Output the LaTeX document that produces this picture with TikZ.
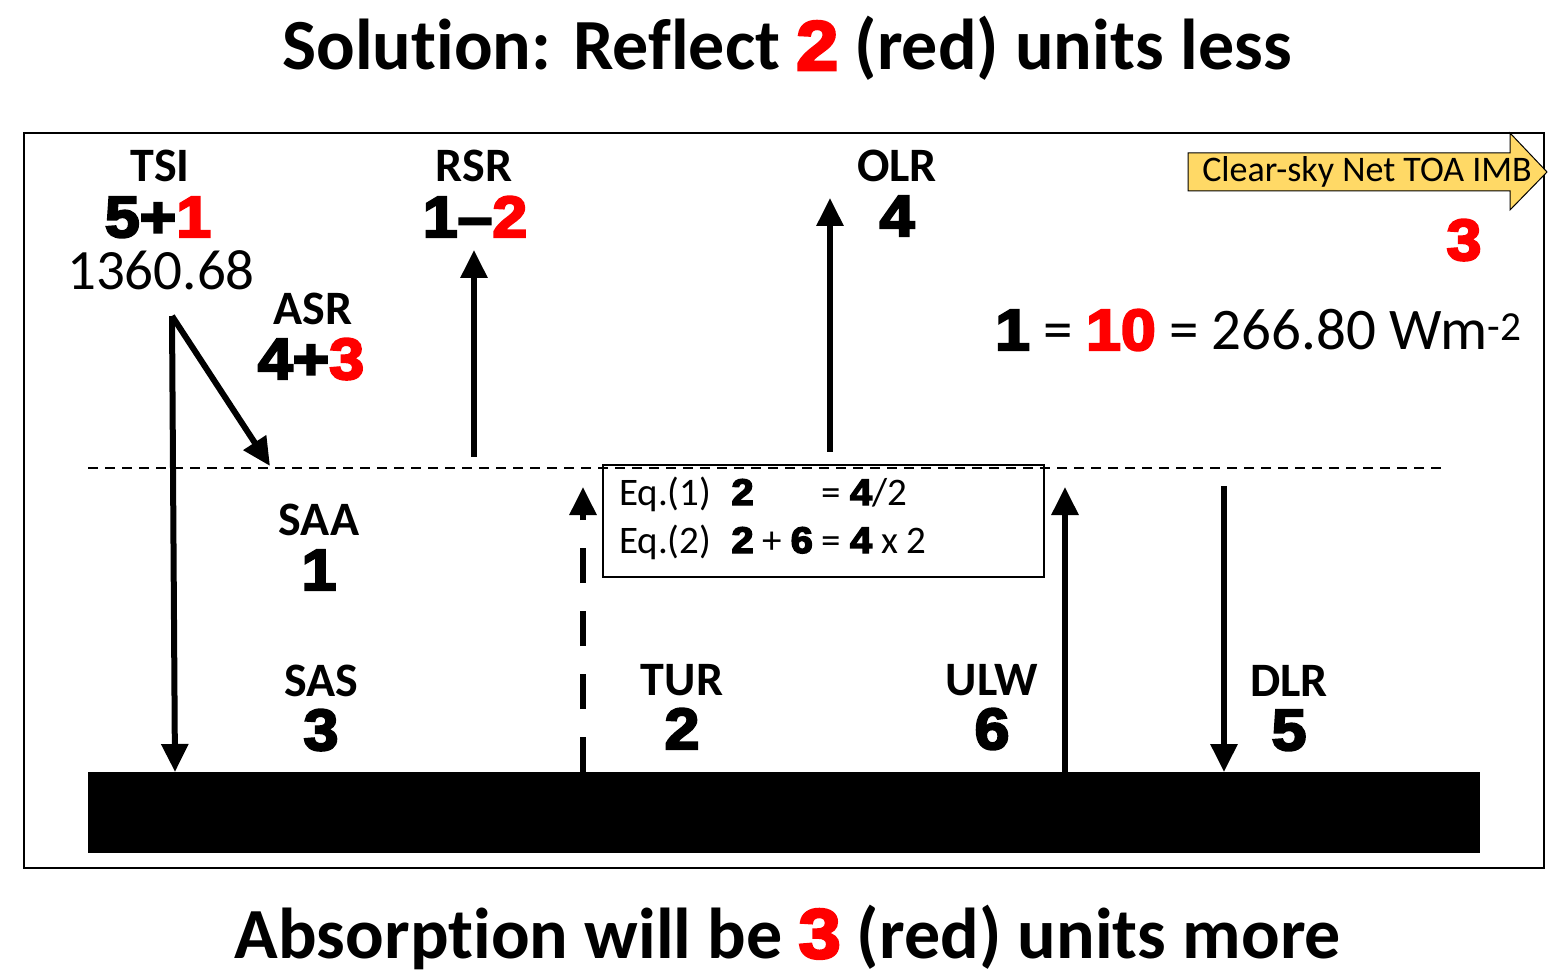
\documentclass[tikz,border=0pt]{standalone}
\usepackage{fontspec}
\setmainfont{Carlito}[Ligatures=NoCommon]
\newfontfamily\heavy{Liberation Sans}[BoldFeatures={FakeBold=4}, FakeStretch=1.08]
\usetikzlibrary{arrows.meta}
\definecolor{hot}{RGB}{255,0,0}
\definecolor{imbfill}{RGB}{255,217,102}
\newcommand{\hv}[1]{{\heavy\bfseries #1}}
\tikzset{
  lbl/.style={font=\bfseries\fontsize{48}{52}\selectfont, inner sep=0pt},
  num/.style={font=\heavy\bfseries\fontsize{58}{62}\selectfont, inner sep=0pt},
  txt/.style={font=\fontsize{57}{60}\selectfont, inner sep=0pt},
  eqtxt/.style={font=\fontsize{39}{42}\selectfont, inner sep=0pt, anchor=base west},
  flux/.style={line width=6pt, -{Triangle[length=28pt,width=26pt]}},
}
\newcommand{\ed}[1]{\hv{\fontsize{37}{40}\selectfont #1}}
\begin{document}
\begin{tikzpicture}[x=1pt,y=-1pt]
\useasboundingbox (0,0) rectangle (1551,973);
% headline and bottom line
\node[anchor=base, inner sep=0pt, font=\bfseries\fontsize{72}{78}\selectfont] (head) at (787,70)
  {Solution: Reflect \hv{\fontsize{70}{76}\selectfont\textcolor{hot}{2}} (red) units less};
\node[anchor=base, inner sep=0pt, font=\bfseries\fontsize{72}{78}\selectfont] (foot) at (788,958)
  {Absorption will be \hv{\fontsize{70}{76}\selectfont\textcolor{hot}{3}} (red) units more};

% frame, surface, top of atmosphere
\draw[line width=2pt] (24,133) rectangle (1544,868);
\fill (88,772) rectangle (1480,853);
\draw[line width=2pt, dash pattern=on 10pt off 7pt] (88,468) -- (1445,468);

% labels with black numbers
\foreach \nm/\lab/\x/\y/\v in {olr/OLR/897/182/4, saa/SAA/319/536/1, sas/SAS/321/696/3,
  tur/TUR/682/695/2, ulw/ULW/992/695/6, dlr/DLR/1289/696/5}{
\node[lbl, anchor=base] (\nm) at (\x,\y) {\lab};
\node[num, anchor=base] (\nm num) at (\x,\y+54) {\v};
}
\node[lbl, anchor=base] (tsi) at (160,182) {TSI};
\node[num, anchor=base] (tsinum) at (158,237) {5+\textcolor{hot}{1}};
\node[txt, anchor=base] (tsival) at (161,290) {1360.68};
\node[lbl, anchor=base] (rsr) at (474,182) {RSR};
\node[num, anchor=base] (rsrnum) at (475,237) {1\textendash\textcolor{hot}{2}};
\node[lbl, anchor=base] (asr) at (313,325) {ASR};
\node[num, anchor=base] (asrnum) at (311,379) {4+\textcolor{hot}{3}};

% net imbalance
\draw[line width=1pt, fill=imbfill] (1188,153) -- (1510,153) -- (1510,133) -- (1547,172)
  -- (1510,210) -- (1510,191) -- (1188,191) -- cycle;
\node[inner sep=0pt, font=\fontsize{36}{40}\selectfont] (imb) at (1367,172) {Clear-sky Net TOA IMB};
\node[num, anchor=base] (imbnum) at (1464,260) {\textcolor{hot}{3}};
\node[txt, anchor=base west, font=\fontsize{59}{62}\selectfont] (unit) at (995,350)
  {\hv{\fontsize{58}{62}\selectfont 1} = \hv{\fontsize{58}{62}\selectfont\textcolor{hot}{10}} = 266.80 Wm\textsuperscript{-2}};

% equations
\node[draw, line width=1.5pt, minimum width=441pt, minimum height=112pt, inner sep=0pt] (eqbox) at (823.5,521) {};
\node[eqtxt] (eqone) at (619,505)
  {Eq.(1)\hspace{20pt}\ed{2}\phantom{ + \ed{6}} = \ed{4}/2};
\node[eqtxt] (eqtwo) at (619,553)
  {Eq.(2)\hspace{20pt}\ed{2} + \ed{6} = \ed{4} x 2};

% end points of the fluxes
\coordinate (tsiout) at (172,316);
\coordinate (tsisfc) at (175,772);
\coordinate (asrin) at (270,466);
\coordinate (rsrlow) at (474,457);
\coordinate (rsrtop) at (474,250);
\coordinate (olrlow) at (830,452);
\coordinate (olrtop) at (830,198);
\coordinate (tursfc) at (583,772);
\coordinate (turtop) at (583,487);
\coordinate (ulwsfc) at (1065,772);
\coordinate (ulwtop) at (1065,487);
\coordinate (dlrtop) at (1224,486);
\coordinate (dlrsfc) at (1224,772);

\draw[flux] (tsiout) -- (tsisfc);
\draw[flux] (tsiout) -- (asrin);
\draw[flux] (rsrlow) -- (rsrtop);
\draw[flux] (olrlow) -- (olrtop);
\draw[flux, dash pattern=on 35pt off 28pt] (tursfc) -- (turtop);
\draw[flux] (ulwsfc) -- (ulwtop);
\draw[flux] (dlrtop) -- (dlrsfc);
\end{tikzpicture}
\end{document}
